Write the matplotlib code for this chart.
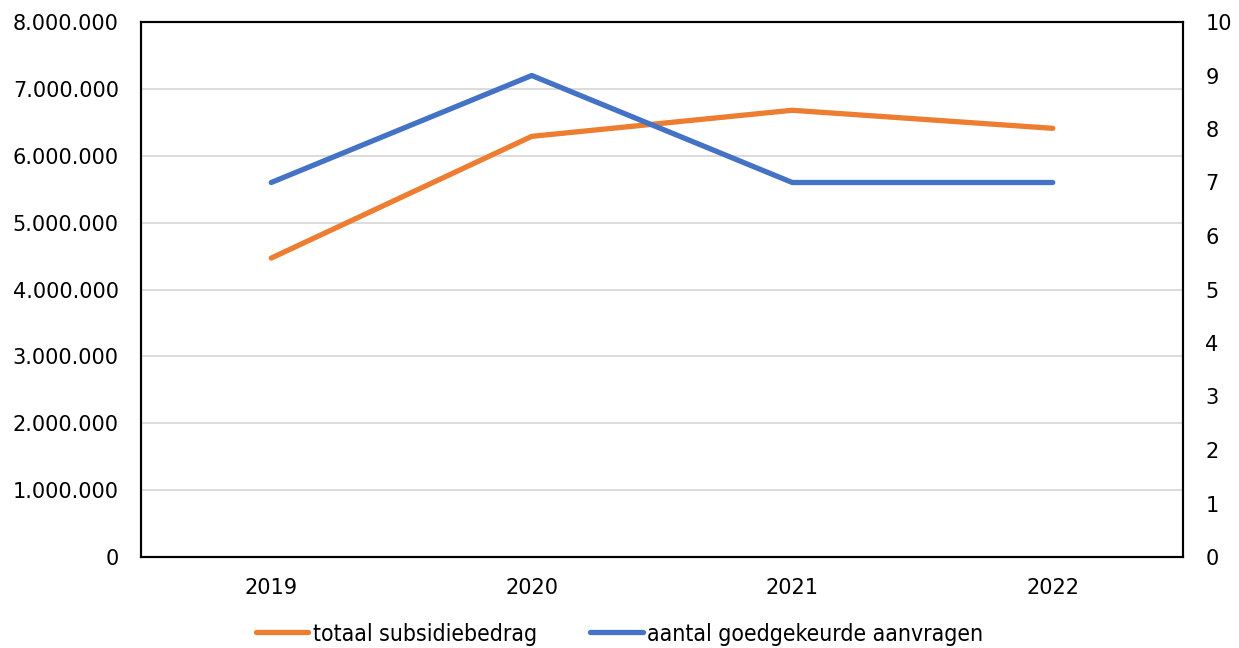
import matplotlib
matplotlib.use('Agg')
import matplotlib.pyplot as plt
from matplotlib.ticker import FuncFormatter

# data
jaren = ['2019', '2020', '2021', '2022']
subsidiebedrag = [4470000, 6290000, 6680000, 6410000]
aanvragen = [7, 9, 7, 7]

oranje = '#ED7D31'
blauw = '#4472C4'

plt.rcParams['font.family'] = 'DejaVu Sans'

fig = plt.figure(figsize=(12.39, 6.48), dpi=100)
ax = fig.add_axes([141 / 1239, 1 - 557 / 648, (1183 - 141) / 1239, (557 - 22) / 648])
ax2 = ax.twinx()

x = range(len(jaren))
l1, = ax.plot(x, subsidiebedrag, color=oranje, lw=3.8, solid_capstyle='round', zorder=3)
l2, = ax2.plot(x, aanvragen, color=blauw, lw=3.8, solid_capstyle='round', zorder=3)

ax.set_xlim(-0.5, 3.5)
ax.set_ylim(0, 8000000)
ax.set_yticks(range(0, 8000001, 1000000))
ax.yaxis.set_major_formatter(FuncFormatter(lambda v, p: f'{int(v):,}'.replace(',', '.')))
ax2.set_ylim(0, 10)
ax2.set_yticks(range(0, 11))

ax.set_xticks(list(x))
ax.set_xticklabels(jaren)
ax.grid(axis='y', color='#D9D9D9', lw=1.3)
ax.set_axisbelow(True)

for a in (ax, ax2):
    a.tick_params(length=0, labelsize=15, colors='black')
    for s in a.spines.values():
        s.set_color('black')
        s.set_linewidth(1.5)
ax.tick_params(axis='y', pad=16)
ax.tick_params(axis='x', pad=15)
ax2.tick_params(axis='y', pad=16)

ax2.set_zorder(ax.get_zorder() + 1)
ax2.patch.set_visible(False)

# legend sits low, as in the reference, but kept fully inside the image
leg = fig.legend([l1, l2], ['totaal subsidiebedrag', 'aantal goedgekeurde aanvragen'],
                 loc='center', bbox_to_anchor=(0.5, 1 - 634 / 648), ncol=2, frameon=False,
                 fontsize=16.5, handlelength=2.3, handletextpad=0.2, columnspacing=2.3)
for t in leg.get_texts():
    t.set_fontstretch('condensed')

fig.savefig('out.png', dpi=100)
